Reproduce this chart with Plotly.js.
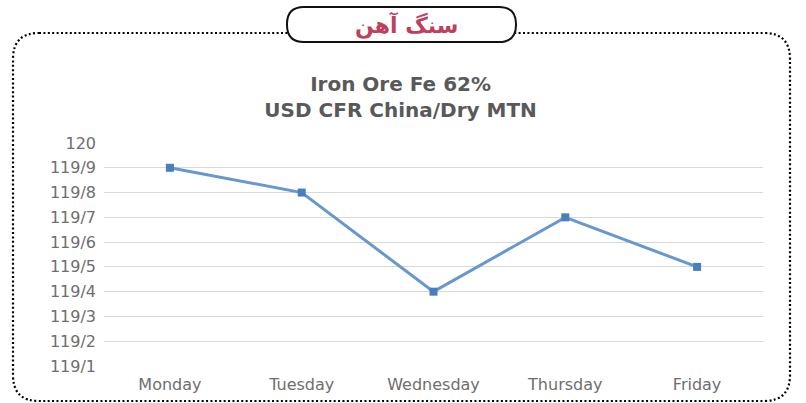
<!DOCTYPE html>
<html>
<head>
<meta charset="utf-8">
<script src="https://cdn.plot.ly/plotly-3.0.1.min.js"></script>
<style>html,body{margin:0;padding:0;background:#fff;}#chart{width:806px;height:403px;}</style>
</head>
<body>
<div id="chart"></div>
<script>
// Data
const days = ["Monday", "Tuesday", "Wednesday", "Thursday", "Friday"];
const prices = [119.9, 119.8, 119.4, 119.7, 119.5];
const tickValues = [119.1, 119.2, 119.3, 119.4, 119.5, 119.6, 119.7, 119.8, 119.9, 120];
const tickLabels = ["119/1", "119/2", "119/3", "119/4", "119/5", "119/6", "119/7", "119/8", "119/9", "120"];
const chartTitle = "Iron Ore Fe 62%<br>USD CFR China/Dry MTN";
const headerText = "سنگ آهن";

// Layout geometry (pixels)
const W = 806, H = 403;
const M = {l: 104, r: 43, t: 143, b: 37};
const PW = W - M.l - M.r, PH = H - M.t - M.b;
const px = x => (x - M.l) / PW;
const py = y => (H - M.b - y) / PH;
const pt = (x, y) => px(x).toFixed(5) + "," + py(y).toFixed(5);
function roundRect(x0, y0, x1, y1, r) {
  return "M" + pt(x0 + r, y0) + " L" + pt(x1 - r, y0) +
    " Q" + pt(x1, y0) + " " + pt(x1, y0 + r) +
    " L" + pt(x1, y1 - r) +
    " Q" + pt(x1, y1) + " " + pt(x1 - r, y1) +
    " L" + pt(x0 + r, y1) +
    " Q" + pt(x0, y1) + " " + pt(x0, y1 - r) +
    " L" + pt(x0, y0 + r) +
    " Q" + pt(x0, y0) + " " + pt(x0 + r, y0) + " Z";
}

const trace = {
  x: days,
  y: prices,
  type: "scatter",
  mode: "lines+markers",
  line: {color: "#6797cf", width: 3},
  marker: {symbol: "square", size: 8, color: "#4a7ebb", line: {color: "#4a7ebb", width: 0}},
  hoverinfo: "skip",
  cliponaxis: false
};

const layout = {
  width: W, height: H,
  margin: M,
  paper_bgcolor: "#ffffff",
  plot_bgcolor: "#ffffff",
  showlegend: false,
  title: {
    text: chartTitle,
    x: 0.497, xref: "container", xanchor: "center",
    y: 1 - 91 / H, yref: "container", yanchor: "middle",
    font: {family: "DejaVu Sans", size: 20, color: "#595959", weight: "bold"}
  },
  xaxis: {
    type: "category",
    range: [-0.5, 4.5],
    showgrid: false,
    zeroline: false,
    showline: false,
    ticks: "",
    ticklabelstandoff: 7,
    tickfont: {family: "DejaVu Sans", size: 16, color: "#6e6e6e"},
    fixedrange: true
  },
  yaxis: {
    range: [119.1, 120],
    tickvals: tickValues,
    ticktext: tickLabels,
    showgrid: true,
    gridcolor: "#d9d9d9",
    gridwidth: 1,
    zeroline: false,
    showline: false,
    ticks: "",
    ticklabelstandoff: 7,
    tickfont: {family: "DejaVu Sans", size: 16, color: "#6e6e6e"},
    fixedrange: true
  },
  shapes: [
    {
      type: "path", xref: "paper", yref: "paper",
      path: roundRect(13, 33, 790, 401, 26),
      line: {color: "#000000", width: 2.2, dash: "2px,2.4px"},
      fillcolor: "rgba(0,0,0,0)",
      layer: "above"
    },
    {
      type: "path", xref: "paper", yref: "paper",
      path: roundRect(287, 7, 516, 42, 17),
      line: {color: "#111111", width: 2},
      fillcolor: "#ffffff",
      layer: "above"
    }
  ],
  annotations: [
    {
      text: headerText,
      xref: "paper", yref: "paper",
      x: px(406), y: py(25),
      xanchor: "center", yanchor: "middle",
      showarrow: false,
      font: {family: "DejaVu Sans", size: 22, color: "#bf3f5e", weight: "bold"}
    }
  ]
};

Plotly.newPlot("chart", [trace], layout, {displayModeBar: false, staticPlot: true});
</script>
</body>
</html>
